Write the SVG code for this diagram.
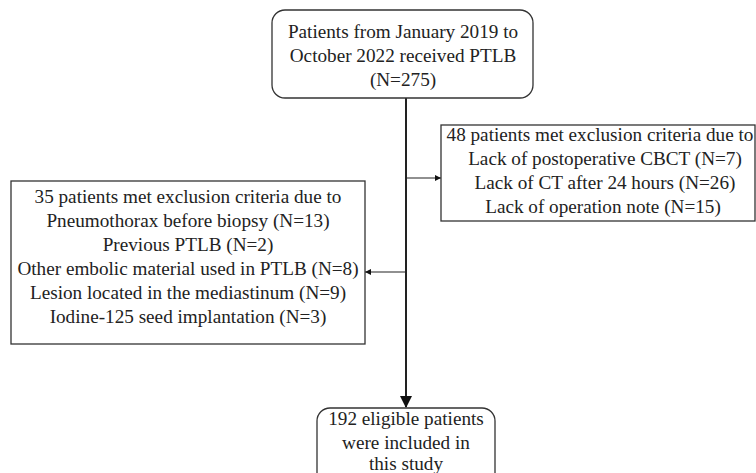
<svg xmlns="http://www.w3.org/2000/svg" width="756" height="473" viewBox="0 0 756 473">
<style>
.box{fill:#fff;stroke:#333;stroke-width:1.3}
.t{font-family:"Liberation Serif","Times New Roman",serif;font-size:19.2px;fill:#222;text-anchor:middle}
.ln{stroke:#222;fill:none}
</style>
<defs>
<marker id="big" markerUnits="userSpaceOnUse" markerWidth="12" markerHeight="14" refX="11" refY="6" orient="auto">
<path d="M0,0 L12,6 L0,12 Z" fill="#111"/>
</marker>
<marker id="sm" markerUnits="userSpaceOnUse" markerWidth="7" markerHeight="6" refX="6" refY="3" orient="auto">
<path d="M0,0 L6,3 L0,6 Z" fill="#111"/>
</marker>
</defs>
<rect width="756" height="473" fill="#fff"/>
<g id="connectors">
<line class="ln" x1="406" y1="98" x2="406" y2="407" stroke-width="2" marker-end="url(#big)"/>
<line class="ln" x1="406" y1="178" x2="441" y2="178" stroke-width="1.2" marker-end="url(#sm)"/>
<line class="ln" x1="406" y1="272" x2="365" y2="272" stroke-width="1.2" marker-end="url(#sm)"/>
</g>
<g id="start">
<rect class="box" x="272" y="10" width="261" height="88" rx="13"/>
<text class="t" x="403" y="38">Patients from January 2019 to</text>
<text class="t" x="403" y="62">October 2022 received PTLB</text>
<text class="t" x="403" y="86">(N=275)</text>
</g>
<g id="excl48">
<rect class="box" x="441" y="125" width="314" height="96"/>
<text class="t" x="600" y="141">48 patients met exclusion criteria due to</text>
<text class="t" x="605" y="165">Lack of postoperative CBCT (N=7)</text>
<text class="t" x="605" y="189">Lack of CT after 24 hours (N=26)</text>
<text class="t" x="603" y="213">Lack of operation note (N=15)</text>
</g>
<g id="excl35">
<rect class="box" x="11" y="181" width="354" height="163"/>
<text class="t" x="188" y="203">35 patients met exclusion criteria due to</text>
<text class="t" x="188" y="227">Pneumothorax before biopsy (N=13)</text>
<text class="t" x="188" y="251">Previous PTLB (N=2)</text>
<text class="t" x="188" y="275">Other embolic material used in PTLB (N=8)</text>
<text class="t" x="188" y="299">Lesion located in the mediastinum (N=9)</text>
<text class="t" x="188" y="323">Iodine-125 seed implantation (N=3)</text>
</g>
<g id="final">
<rect class="box" x="317" y="408" width="178" height="80" rx="13"/>
<text class="t" x="406" y="425">192 eligible patients</text>
<text class="t" x="406" y="449">were included in</text>
<text class="t" x="406" y="470">this study</text>
</g>
</svg>
